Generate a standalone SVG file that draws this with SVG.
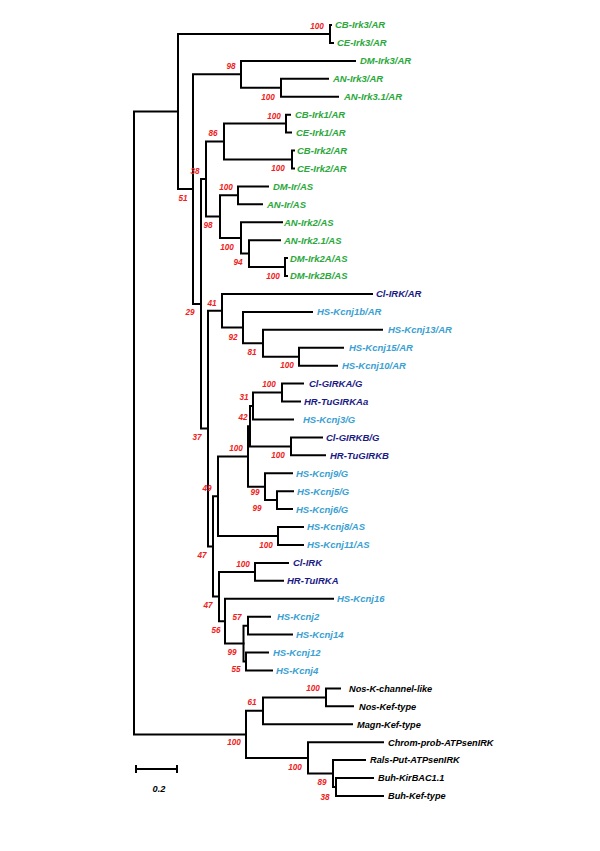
<svg xmlns="http://www.w3.org/2000/svg" width="600" height="851" viewBox="0 0 600 851">
<style>
.e{fill:none;stroke:#000;stroke-width:2;stroke-linejoin:miter;stroke-linecap:square}
text{font-family:"Liberation Sans",Arial,sans-serif;font-style:italic;font-weight:bold}
.g{fill:#2aa83a;font-size:9.5px}
.d{fill:#1a1a85;font-size:9.5px}
.l{fill:#3a9fd2;font-size:9.5px}
.k{fill:#000;font-size:9.2px}
.b{fill:#f02020;font-size:8.2px;text-anchor:middle}
</style>
<rect width="600" height="851" fill="#fff"/>
<g id="connectors">
<path class="e" d="M178,111.5 H134 V734.4 H246"/>
<path class="e" d="M330,34 H178 V189.1 H193"/>
<path class="e" d="M331,25 H330 V42.9 H333"/>
<path class="e" d="M241,74.3 H193 V303.9 H201"/>
<path class="e" d="M355,60.9 H241 V87.75 H281"/>
<path class="e" d="M328,78.8 H281 V96.7 H338"/>
<path class="e" d="M206,179.1 H201 V428.6 H208"/>
<path class="e" d="M224,141.6 H206 V216.6 H220"/>
<path class="e" d="M286,123.6 H224 V159.5 H292"/>
<path class="e" d="M290,114.7 H286 V132.6 H291"/>
<path class="e" d="M294,150.5 H292 V168.4 H294"/>
<path class="e" d="M238,195.3 H220 V237.9 H241"/>
<path class="e" d="M268,186.4 H238 V204.3 H262"/>
<path class="e" d="M282,222.2 H241 V253.6 H249"/>
<path class="e" d="M280,240.2 H249 V267 H285"/>
<path class="e" d="M287,258.1 H285 V276 H287"/>
<path class="e" d="M222,310.8 H208 V546.4 H213"/>
<path class="e" d="M372,294 H222 V327.6 H243"/>
<path class="e" d="M312,311.9 H243 V343.25 H263"/>
<path class="e" d="M382,329.8 H263 V356.7 H299"/>
<path class="e" d="M343,347.7 H299 V365.7 H337"/>
<path class="e" d="M218,496.2 H213 V596.5 H219"/>
<path class="e" d="M248,456.5 H218 V536 H278"/>
<path class="e" d="M250,426.2 H248 V486.7 H265"/>
<path class="e" d="M253,406 H250 V446.4 H291"/>
<path class="e" d="M282,392.5 H253 V419.5 H293"/>
<path class="e" d="M303,383.6 H282 V401.5 H300"/>
<path class="e" d="M322,437.4 H291 V455.3 H325"/>
<path class="e" d="M292,473.3 H265 V500.1 H277"/>
<path class="e" d="M293,491.2 H277 V509.1 H292"/>
<path class="e" d="M303,527 H278 V545 H303"/>
<path class="e" d="M255,571.9 H219 V621.2 H225"/>
<path class="e" d="M288,562.9 H255 V580.8 H283"/>
<path class="e" d="M333,598.8 H225 V643.6 H243.5"/>
<path class="e" d="M248,625.7 H243.5 V661.5 H246"/>
<path class="e" d="M270,616.7 H248 V634.6 H292"/>
<path class="e" d="M268,652.6 H246 V670.5 H272"/>
<path class="e" d="M263,710.8 H246 V757.9 H308"/>
<path class="e" d="M326,697.4 H263 V724.3 H352"/>
<path class="e" d="M340,688.4 H326 V706.3 H353"/>
<path class="e" d="M383,742.2 H308 V773.6 H333"/>
<path class="e" d="M365,760.1 H333 V787 H336"/>
<path class="e" d="M373,778.1 H336 V796 H383"/>
</g>
<g id="leaves">
<g id="n0"><text class="g" x="335" y="28.4">CB-Irk3/AR</text></g>
<g id="n1"><text class="g" x="337" y="46.3">CE-Irk3/AR</text></g>
<g id="n2"><text class="g" x="360" y="64.3">DM-Irk3/AR</text></g>
<g id="n3"><text class="g" x="333" y="82.2">AN-Irk3/AR</text></g>
<g id="n4"><text class="g" x="344" y="100.1">AN-Irk3.1/AR</text></g>
<g id="n5"><text class="g" x="295" y="118.1">CB-Irk1/AR</text></g>
<g id="n6"><text class="g" x="296" y="136">CE-Irk1/AR</text></g>
<g id="n7"><text class="g" x="297" y="153.9">CB-Irk2/AR</text></g>
<g id="n8"><text class="g" x="297" y="171.8">CE-Irk2/AR</text></g>
<g id="n9"><text class="g" x="273" y="189.8">DM-Ir/AS</text></g>
<g id="n10"><text class="g" x="267" y="207.7">AN-Ir/AS</text></g>
<g id="n11"><text class="g" x="284" y="225.6">AN-Irk2/AS</text></g>
<g id="n12"><text class="g" x="284" y="243.6">AN-Irk2.1/AS</text></g>
<g id="n13"><text class="g" x="290" y="261.5">DM-Irk2A/AS</text></g>
<g id="n14"><text class="g" x="290" y="279.4">DM-Irk2B/AS</text></g>
<g id="n15"><text class="d" x="376" y="297.4">Cl-IRK/AR</text></g>
<g id="n16"><text class="l" x="317" y="315.3">HS-Kcnj1b/AR</text></g>
<g id="n17"><text class="l" x="388" y="333.2">HS-Kcnj13/AR</text></g>
<g id="n18"><text class="l" x="349" y="351.1">HS-Kcnj15/AR</text></g>
<g id="n19"><text class="l" x="342" y="369.1">HS-Kcnj10/AR</text></g>
<g id="n20"><text class="d" x="309" y="387">Cl-GIRKA/G</text></g>
<g id="n21"><text class="d" x="304" y="404.9">HR-TuGIRKAa</text></g>
<g id="n22"><text class="l" x="303" y="422.9">HS-Kcnj3/G</text></g>
<g id="n23"><text class="d" x="326" y="440.8">Cl-GIRKB/G</text></g>
<g id="n24"><text class="d" x="330" y="458.7">HR-TuGIRKB</text></g>
<g id="n25"><text class="l" x="296" y="476.7">HS-Kcnj9/G</text></g>
<g id="n26"><text class="l" x="297" y="494.6">HS-Kcnj5/G</text></g>
<g id="n27"><text class="l" x="296" y="512.5">HS-Kcnj6/G</text></g>
<g id="n28"><text class="l" x="307" y="530.4">HS-Kcnj8/AS</text></g>
<g id="n29"><text class="l" x="307" y="548.4">HS-Kcnj11/AS</text></g>
<g id="n30"><text class="d" x="293" y="566.3">Cl-IRK</text></g>
<g id="n31"><text class="d" x="287" y="584.2">HR-TuIRKA</text></g>
<g id="n32"><text class="l" x="337" y="602.2">HS-Kcnj16</text></g>
<g id="n33"><text class="l" x="277" y="620.1">HS-Kcnj2</text></g>
<g id="n34"><text class="l" x="296" y="638">HS-Kcnj14</text></g>
<g id="n35"><text class="l" x="273" y="656">HS-Kcnj12</text></g>
<g id="n36"><text class="l" x="276" y="673.9">HS-Kcnj4</text></g>
<g id="n37"><text class="k" x="349" y="691.7">Nos-K-channel-like</text></g>
<g id="n38"><text class="k" x="359" y="709.6">Nos-Kef-type</text></g>
<g id="n39"><text class="k" x="357" y="727.6">Magn-Kef-type</text></g>
<g id="n40"><text class="k" x="388" y="745.5">Chrom-prob-ATPsenIRK</text></g>
<g id="n41"><text class="k" x="370" y="763.4">Rals-Put-ATPsenIRK</text></g>
<g id="n42"><text class="k" x="378" y="781.4">Buh-KirBAC1.1</text></g>
<g id="n43"><text class="k" x="388" y="799.3">Buh-Kef-type</text></g>
</g>
<g id="bootstrap">
<text class="b" x="317" y="28.6">100</text>
<text class="b" x="231" y="68.9">98</text>
<text class="b" x="268" y="99.6">100</text>
<text class="b" x="274" y="118.6">100</text>
<text class="b" x="213" y="136.2">86</text>
<text class="b" x="278" y="171.2">100</text>
<text class="b" x="195" y="173.6">38</text>
<text class="b" x="183" y="200.6">51</text>
<text class="b" x="226" y="189.6">100</text>
<text class="b" x="208" y="227.9">98</text>
<text class="b" x="227" y="249.6">100</text>
<text class="b" x="238" y="264.6">94</text>
<text class="b" x="273" y="278.9">100</text>
<text class="b" x="212" y="305.6">41</text>
<text class="b" x="190" y="315.2">29</text>
<text class="b" x="233" y="339.6">92</text>
<text class="b" x="252" y="354.6">81</text>
<text class="b" x="287" y="367.9">100</text>
<text class="b" x="269" y="387.2">100</text>
<text class="b" x="244" y="400.2">31</text>
<text class="b" x="243" y="420.2">42</text>
<text class="b" x="197" y="439.6">37</text>
<text class="b" x="236" y="451.2">100</text>
<text class="b" x="278" y="457.9">100</text>
<text class="b" x="207" y="491.2">49</text>
<text class="b" x="255" y="495.2">99</text>
<text class="b" x="257" y="511.2">99</text>
<text class="b" x="266" y="547.9">100</text>
<text class="b" x="202" y="557.9">47</text>
<text class="b" x="243" y="566.9">100</text>
<text class="b" x="208" y="607.9">47</text>
<text class="b" x="237" y="620.2">57</text>
<text class="b" x="216" y="632.9">56</text>
<text class="b" x="232" y="654.6">99</text>
<text class="b" x="236" y="672.2">55</text>
<text class="b" x="313" y="690.6">100</text>
<text class="b" x="252" y="705.2">61</text>
<text class="b" x="234" y="745.2">100</text>
<text class="b" x="295" y="769.6">100</text>
<text class="b" x="322" y="784.6">89</text>
<text class="b" x="325" y="799.6">38</text>
</g>
<g id="scale">
<path class="e" d="M136,769 H177 M136,765 V773 M177,765 V773" style="stroke-linecap:butt"/>
<text class="k" x="159" y="792" text-anchor="middle">0.2</text>
</g>
</svg>
